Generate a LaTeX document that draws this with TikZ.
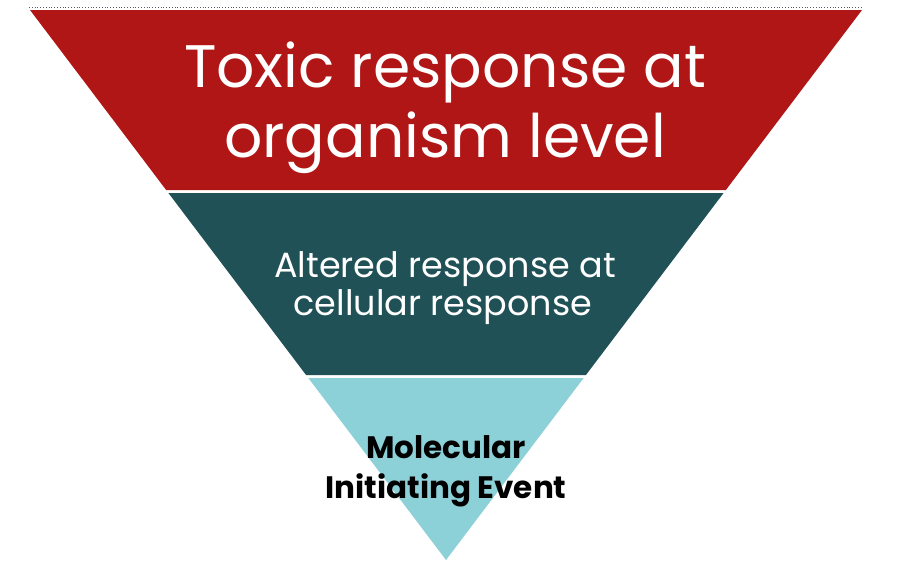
\documentclass[tikz,border=0pt]{standalone}
\usepackage{fontspec}
\setmainfont{Poppins}
\usetikzlibrary{calc}
\definecolor{topred}{HTML}{B01616}
\definecolor{midteal}{HTML}{1F5157}
\definecolor{lowcyan}{HTML}{8CD0D8}
\definecolor{dotgray}{HTML}{555B66}
\tikzset{
  band/.style={draw=none},
  bigtxt/.style={text=white, font=\fontsize{60}{60}\selectfont, anchor=base, inner sep=0pt},
  midtxt/.style={text=white, font=\fontsize{35}{35}\selectfont, anchor=base, inner sep=0pt},
  lowtxt/.style={text=black, font=\bfseries\fontsize{31}{31}\selectfont, anchor=base, inner sep=0pt},
}
\begin{document}
\begin{tikzpicture}[x=1pt,y=-1pt]
\useasboundingbox (0,0) rectangle (901,574);
\coordinate (L) at (30,10);
\coordinate (R) at (862,10);
\coordinate (A) at (446,560);
\coordinate (dl) at (29,7);
\coordinate (dr) at (863,7);
\draw[dotgray, dotted, line width=0.8pt] (dl) -- (dr);
% red band
\fill[band, topred] (L) -- (R) -- ($(R)!0.32727!(A)$) -- ($(L)!0.32727!(A)$) -- cycle;
% teal band
\fill[band, midteal] ($(L)!0.33273!(A)$) -- ($(R)!0.33273!(A)$) -- ($(R)!0.66364!(A)$) -- ($(L)!0.66364!(A)$) -- cycle;
% cyan band
\fill[band, lowcyan] ($(L)!0.66909!(A)$) -- ($(R)!0.66909!(A)$) -- (A) -- cycle;
\node[bigtxt] (t1) at (445,87) {Toxic response at};
\node[bigtxt] (t2) at (445,157) {organism level};
\node[midtxt] (m1) at (445,277) {Altered response at};
\node[midtxt] (m2) at (443,315) {cellular response};
\node[lowtxt] (b1) at (446,458) {Molecular};
\node[lowtxt] (b2) at (446,498) {Initiating Event};
\end{tikzpicture}
\end{document}
